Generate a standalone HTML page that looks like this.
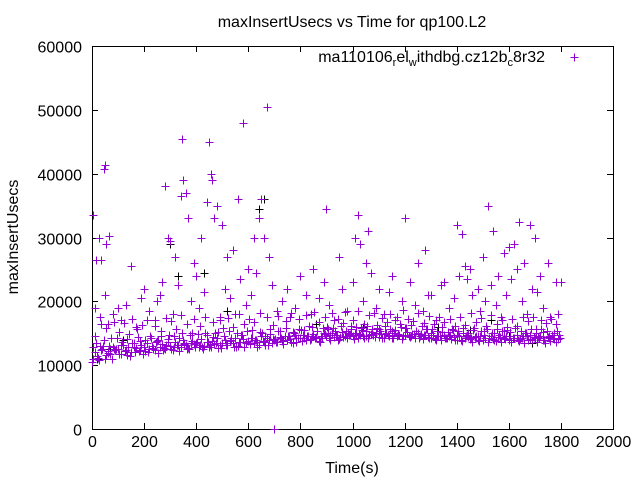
<!DOCTYPE html>
<html><head><meta charset="utf-8"><style>
body{margin:0;background:#fff;}
svg{display:block;font-family:"Liberation Sans",sans-serif;}
</style></head><body>
<svg id="chart" width="640" height="480" viewBox="0 0 640 480" xmlns="http://www.w3.org/2000/svg">
<rect width="640" height="480" fill="#fff"/>
<text x="352" y="27" font-size="16" text-anchor="middle">maxInsertUsecs vs Time for qp100.L2</text>
<text transform="translate(18,237) rotate(-90)" font-size="16" text-anchor="middle">maxInsertUsecs</text>
<text x="352" y="473" font-size="16" text-anchor="middle">Time(s)</text>
<g id="axes"></g>
<g id="marks"></g>
<g>
<text x="545" y="62" font-size="16" text-anchor="end">ma110106<tspan font-size="11" dy="4">r</tspan><tspan dy="-4">el</tspan><tspan font-size="11" dy="4">w</tspan><tspan dy="-4">ithdbg.cz12b</tspan><tspan font-size="11" dy="4">c</tspan><tspan dy="-4">8r32</tspan></text>
<path d="M570.5 57.5h8M574.5 53.5v8" stroke="#9400d3" stroke-width="1"/>
</g>
</svg>
<script>
const xTicks=[0,200,400,600,800,1000,1200,1400,1600,1800,2000];
const yTicks=[0,10000,20000,30000,40000,50000,60000];
const band1=[10500,12000,11500,13000,12500,11000,12200,11800,12800,12300,
12500,11800,13200,12400,12900,12000,13500,12700,12200,13100,
12800,13400,12500,13000,12300,13800,12900,13300,12600,13600,
13000,12400,13700,13200,12800,14000,13100,12700,13500,13300,
13400,12800,14100,13000,13600,12900,13800,13300,14200,13100,
13500,14000,13200,13800,13400,14300,13000,13700,14100,13600,
13800,14300,13500,14000,13200,14500,13700,14200,13900,13400,
14000,13600,14400,13800,14600,13900,14100,13500,14700,14200,
14300,14800,13900,14500,14100,14900,14400,13800,14600,15000,
14500,14200,15000,14400,14800,14100,15200,14600,14300,14900,
14600,15100,14300,14800,14500,15300,14200,14900,14700,15000,
14400,14900,14200,15100,14600,14300,15000,14500,14800,14100,
14700,15200,14400,14900,14300,15000,14500,14100,14800,14400,
14200,14700,14000,14500,13900,14800,14300,14600,14100,14400,
14000,14600,13800,14300,14700,14100,13700,14400,14000,14500,
13900,14300,13600,14500,14100,13800,14400,13700,14200,14600,
14000,13600,14300,14700,13800,14200,13500,14500,14100,13900,
14300,13700,14600,14000,13500,14400,13800,14200,13600,14100];
const band2=[11000,13500,10800,12400,14000,11600,13000,10900,12600,14200,
11800,13600,12200,14100,11500,13400,12000,14400,12300,11700,
13900,12100,14300,12500,13600,11900,14500,12700,13200,14800,
12600,14600,13100,12200,15000,13400,12500,14700,13800,12900,
14900,13200,12600,15100,13700,12800,14400,13500,15200,12700,
14600,13100,15400,13900,12900,15000,13600,14700,12800,15300,
13300,15500,14000,12900,15200,13800,14600,13100,15700,14100,
13600,15400,14200,13300,15800,14500,13700,15100,14300,15600,
13800,15500,14600,13900,16000,14200,15300,13700,15800,14900,
15600,14000,15900,14700,13900,16100,14400,15400,14800,15700,
14100,16000,14900,15500,14300,16200,14700,15600,14400,15900,
15300,14300,16100,14800,15700,14200,15500,14900,16000,14600,
15800,14500,16300,14900,15400,14300,16100,14700,15600,14200,
15700,14100,15300,14600,16000,14300,15200,14800,15500,14000,
15400,13900,15800,14500,15100,14200,15900,14600,13800,15300,
14800,15600,14200,15000,13900,15700,14400,15300,14100,15500,
15200,14300,15800,13900,15400,14600,15100,14000,15700,14400,
15000,14200,15600,13900,15300,14500,14800,14100,15400,14300];
const band3=[12800,14500,11200,16500,13000,15800,11900,14200,16800,12500,
15200,13100,16600,11600,14900,17200,12900,15600,13800,16300,
12200,17000,14600,12700,16100,13900,15400,12300,17400,14100,
16900,12800,15700,14300,17800,13300,16400,12600,15100,17300,
13600,16200,12900,17600,14800,13200,16700,15000,12700,17100,
15900,13500,17400,14200,16000,12900,18000,14700,16500,13400,
17200,14300,16800,13600,18200,15100,13200,17500,14900,16300,
14100,17700,15300,13800,16900,14600,18100,15200,13700,17300,
15500,14200,17900,16100,14500,18300,15400,16700,14300,17600,
16000,14800,18100,15300,17200,14400,16600,18400,15100,16200,
17000,14700,18500,15800,16400,14600,17800,15200,18200,16300,
15600,17400,14900,16800,18000,15300,17100,14800,16500,18600,
15900,17300,14600,16900,15400,18100,14900,16600,15700,17700,
15000,16400,14500,17600,15200,16800,14300,17200,15600,16100,
14700,17500,15100,16300,14400,18200,15500,16700,14600,17400,
15300,16100,14200,17800,15000,16500,14800,17100,15400,16000,
14500,17300,15800,16200,14100,17600,15100,16900,14700,17500,
15600,14400,17000,15200,16600,14300,17200,15000,16400,14800];
const outT=[5,15,25,35,45,50,55,65,50,100,150,200,250,280,290,300,320,340,345,350,360,370,390,420,440,450,455,460,470,480,500,520,540,560,580,600,620,640,650,660,670,680,700,750,800,850,900,950,1000,1010,1020,1030,1050,1060,1100,1150,1200,1250,1280,1300,1350,1400,1420,1430,1450,1480,1500,1520,1540,1560,1580,1600,1620,1640,1660,1680,1700,1720,1750,1780,1800];
const outV=[33500,26500,30000,26500,40800,41300,29000,30200,21000,19000,25500,22000,20000,38000,30000,29500,27000,36500,45500,39000,37000,33000,26000,30000,35500,45000,40000,39000,33000,35000,32000,27000,28000,36000,48000,25000,30000,33000,36000,30000,50400,27000,0,22000,24000,25000,34500,27000,23000,30000,33500,29000,26000,31000,22000,24000,33000,26000,28000,21000,23000,32000,30500,25500,25000,22000,27000,35000,31000,24000,27500,28500,29000,32500,26000,32000,30000,24000,26000,23000,23000];
const midT=[10,30,60,80,110,130,170,190,220,240,260,270,310,330,380,400,410,430,490,510,530,550,570,590,610,630,690,710,730,760,780,820,840,870,890,910,930,960,980,1040,1070,1090,1120,1140,1170,1190,1220,1240,1270,1290,1320,1340,1370,1390,1410,1440,1460,1490,1510,1530,1550,1570,1590,1610,1630,1650,1670,1690,1710,1730,1760,1790];
const midV=[19000,17500,16500,18000,17000,19500,16000,20500,18500,17000,21000,23000,18000,22500,20000,24000,19000,21500,17500,22000,20500,18000,23500,19500,21000,24500,22500,18500,20000,17500,19000,21000,18000,20500,23000,19500,17000,22000,18500,20000,24500,19000,18000,21500,17500,20000,23000,19500,18500,21000,17000,22500,19000,20500,24000,23500,21000,18500,20000,22500,19500,17500,21000,23500,25000,20000,18000,22000,21500,19000,17500,18000];
const blkT=[20,70,120,300,330,430,520,640,660,680,860,1030,1040,1330,1450,1530,1600,1690];
const blkV=[11000,12500,14000,29000,24000,24500,18500,34500,36000,27000,16500,29000,16000,16000,15500,17000,14500,13500];

const X=v=>92+v*(613-92)/2000, Y=v=>429-v*(429-46)/60000;
const NS="http://www.w3.org/2000/svg";
const ax=document.getElementById('axes'), mk=document.getElementById('marks');
function line(g,d,c){const p=document.createElementNS(NS,'path');p.setAttribute('d',d);p.setAttribute('stroke',c);p.setAttribute('fill','none');p.setAttribute('stroke-width','1');g.appendChild(p);return p;}
const frame=line(ax,'M92.5 46.5H613.5V429.5H92.5Z','#000');


xTicks.forEach(t=>{const x=Math.round(X(t))+0.5;
const tk=line(ax,`M${x} 429V423M${x} 46V52`,'#000');


const tx=document.createElementNS(NS,'text');tx.setAttribute('x',x);tx.setAttribute('y',447);tx.setAttribute('font-size','16');tx.setAttribute('text-anchor','middle');tx.textContent=t;


ax.appendChild(tx);});
yTicks.forEach(t=>{const y=Math.round(Y(t))+0.5;
const tk=line(ax,`M92 ${y}H98M613 ${y}H607`,'#000');


const tx=document.createElementNS(NS,'text');tx.setAttribute('x',82);tx.setAttribute('y',y+6);tx.setAttribute('font-size','16');tx.setAttribute('text-anchor','end');tx.textContent=t;


ax.appendChild(tx);});
function plus(t,v,c){const x=Math.round(X(t))+0.5,y=Math.round(Y(v))+0.5;
const p=line(mk,`M${x-4} ${y}h8M${x} ${y-4}v8`,c);

}
blkT.forEach((t,i)=>plus(t,blkV[i],'#000'));
band1.forEach((v,i)=>plus(i*10,v,'#9400d3'));
band2.forEach((v,i)=>plus(i*10+5,v,'#9400d3'));
band3.forEach((v,i)=>plus(i*10+3,v,'#9400d3'));
midT.forEach((t,i)=>plus(t,midV[i],'#9400d3'));
outT.forEach((t,i)=>plus(t,outV[i],'#9400d3'));
</script>
</body></html>
